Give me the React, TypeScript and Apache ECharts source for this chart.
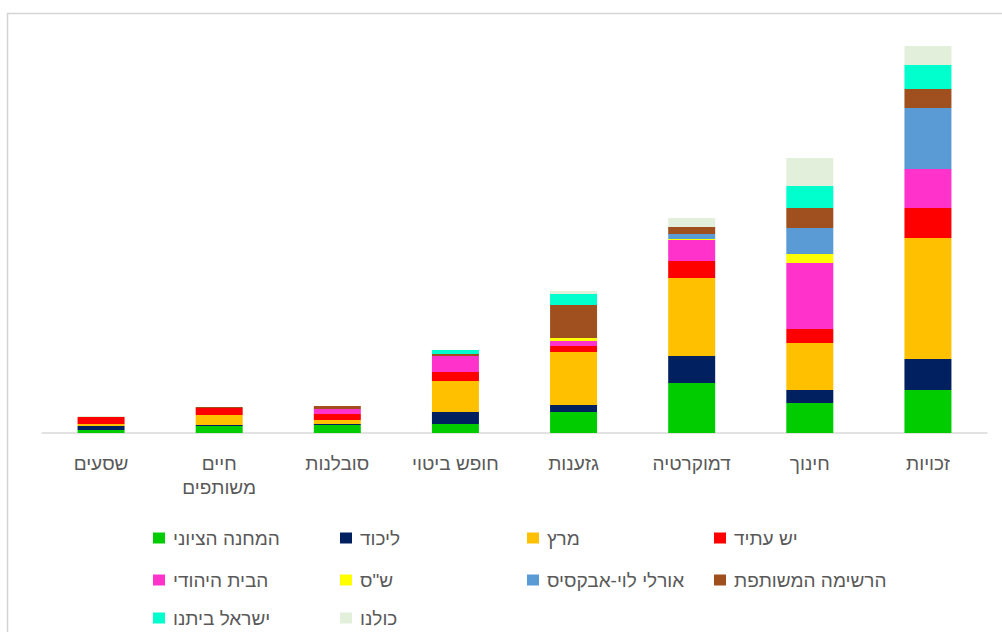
import React, { useEffect, useRef } from "react";
import * as echarts from "echarts";

const categories = ["שסעים", "חיים\nמשותפים", "סובלנות", "חופש ביטוי", "גזענות", "דמוקרטיה", "חינוך", "זכויות"];

const seriesNames = ["המחנה הציוני", "ליכוד", "מרץ", "יש עתיד", "הבית היהודי", 'ש"ס', "אורלי לוי-אבקסיס", "הרשימה המשותפת", "ישראל ביתנו", "כולנו"];
const seriesColors = ["#00CC00", "#002060", "#FFC000", "#FF0000", "#FF33CC", "#FFFF00", "#5B9BD5", "#A0501E", "#00FFCC", "#E2EFDA"];

const machane = [3, 7, 8, 9, 21, 50, 30, 43];
const likud = [4, 1, 1, 12, 7, 27, 13, 31];
const meretz = [2, 10, 4, 31, 53, 78, 47, 121];
const yeshAtid = [7, 7, 6, 9, 6, 17, 14, 30];
const bayitYehudi = [0, 0, 5, 16, 5, 21, 66, 39];
const shas = [0, 0, 0, 0, 3, 1, 9, 0];
const orly = [0, 0, 0, 0, 0, 5, 26, 61];
const meshutefet = [0, 1, 3, 2, 33, 7, 20, 19];
const israelBeitenu = [0, 0, 0, 4, 11, 0, 22, 24];
const kulanu = [1, 0, 0, 0, 3, 9, 28, 19];

const seriesData = [machane, likud, meretz, yeshAtid, bayitYehudi, shas, orly, meshutefet, israelBeitenu, kulanu];

const FONT = "'Liberation Sans', Arial, 'DejaVu Sans', sans-serif";
const TEXT = "#595959";

export default function App() {
  const ref = useRef<HTMLDivElement>(null);
  useEffect(() => {
    if (!ref.current) return;
    const chart = echarts.init(ref.current, undefined, { renderer: "svg" });
    const legendRow = (names: string[], top: number) => ({
      data: names,
      left: 148,
      top,
      orient: "horizontal",
      itemWidth: 12,
      itemHeight: 11,
      itemGap: 7,
      icon: "rect",
      selectedMode: false,
      textStyle: { color: TEXT, fontSize: 19, fontFamily: FONT, width: 160, lineHeight: 22, overflow: "none", padding: [0, 0, 0, 3] },
    });
    chart.setOption({
      animation: false,
      backgroundColor: "#ffffff",
      textStyle: { fontFamily: FONT },
      graphic: [
        {
          type: "rect",
          shape: { x: 7.5, y: 13.5, width: 1000, height: 640 },
          style: { fill: "none", stroke: "#d4d4d4", lineWidth: 1.5 },
          silent: true,
        },
      ],
      legend: [
        legendRow(seriesNames.slice(0, 4), 522),
        legendRow(seriesNames.slice(4, 8), 564),
        legendRow(seriesNames.slice(8, 10), 602),
      ],
      grid: { left: 42, right: 15, top: 33, bottom: 199 },
      xAxis: {
        type: "category",
        data: categories,
        axisLine: { lineStyle: { color: "#d9d9d9", width: 1.5 } },
        axisTick: { show: false },
        axisLabel: { color: TEXT, fontSize: 19, fontFamily: FONT, margin: 18, lineHeight: 24, interval: 0 },
      },
      yAxis: {
        type: "value",
        min: 0,
        max: 400,
        show: false,
        splitLine: { show: false },
      },
      series: seriesNames.map((name, i) => ({
        name,
        type: "bar",
        stack: "total",
        barWidth: 47,
        data: seriesData[i],
        itemStyle: { color: seriesColors[i] },
      })),
    });
    return () => chart.dispose();
  }, []);
  return <div ref={ref} style={{ position: "fixed", left: 0, top: 0, width: 1002, height: 632 }} />;
}
